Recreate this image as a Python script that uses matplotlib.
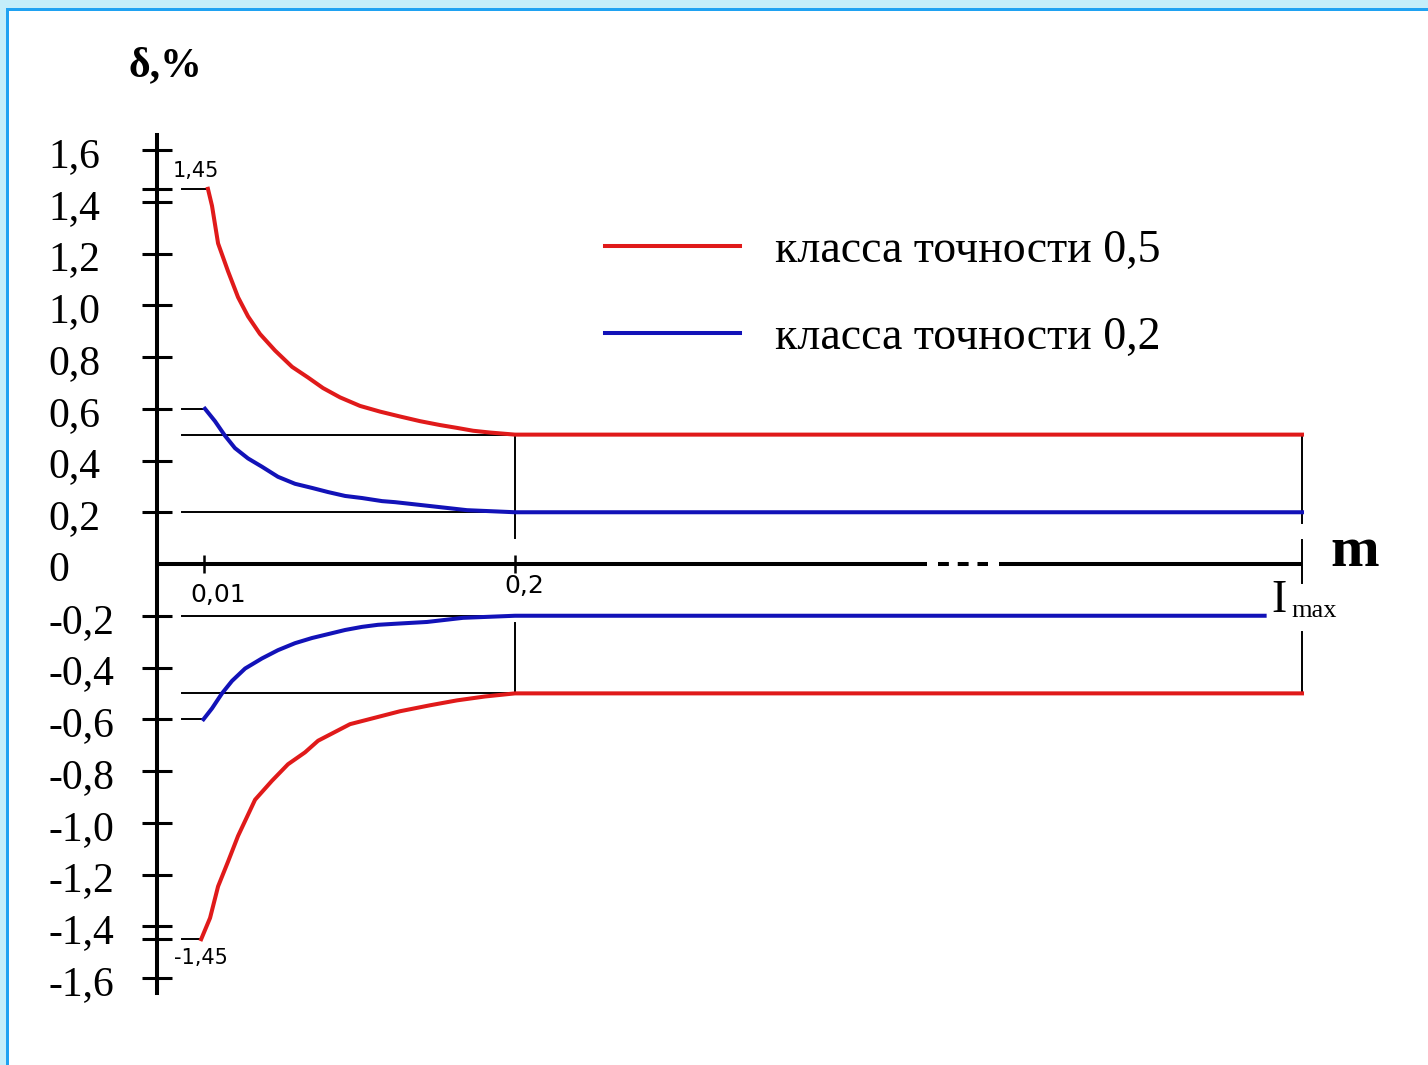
import numpy as np
import matplotlib
matplotlib.use("Agg")
import matplotlib.pyplot as plt
from matplotlib.patches import Rectangle
from matplotlib.transforms import blended_transform_factory

# ---------------- data ----------------
# relative current m (Imax = 1), error limits delta, %
m_red_up = [0.0124, 0.0149, 0.0186, 0.0247, 0.0308, 0.0369, 0.0442, 0.0534,
            0.0638, 0.0735, 0.0827, 0.0931, 0.1053, 0.1175, 0.1298, 0.1420,
            0.1542, 0.1646, 0.1744, 0.1848, 0.2, 1.0]
d_red_up = [1.45, 1.384, 1.239, 1.131, 1.031, 0.957, 0.889, 0.825,
            0.762, 0.721, 0.68, 0.644, 0.611, 0.589, 0.570, 0.552,
            0.537, 0.526, 0.515, 0.508, 0.5, 0.5]

m_red_lo = [0.0094, 0.0137, 0.0186, 0.0247, 0.0308, 0.0412, 0.0515, 0.0613,
            0.0717, 0.0797, 0.0992, 0.1298, 0.1481, 0.1646, 0.1817, 0.2, 1.0]
d_red_lo = [-1.45, -1.368, -1.246, -1.15, -1.051, -0.911, -0.838, -0.774,
            -0.728, -0.683, -0.619, -0.569, -0.546, -0.527, -0.512, -0.5, -0.5]

m_blue_up = [0.0106, 0.0167, 0.0228, 0.0289, 0.0369, 0.0454, 0.0552, 0.0656,
             0.0760, 0.0858, 0.0962, 0.1065, 0.1188, 0.1267, 0.1481, 0.1707,
             0.2, 1.0]
d_blue_up = [0.6, 0.552, 0.496, 0.448, 0.408, 0.376, 0.337, 0.310,
             0.294, 0.278, 0.263, 0.255, 0.243, 0.239, 0.224, 0.208,
             0.2, 0.2]

m_blue_lo = [0.0099, 0.0149, 0.0210, 0.0271, 0.0351, 0.0454, 0.0552, 0.0656,
             0.0760, 0.0858, 0.0962, 0.1065, 0.1163, 0.1267, 0.1463, 0.1683,
             0.2, 0.962]
d_blue_lo = [-0.6, -0.558, -0.5, -0.452, -0.404, -0.365, -0.333, -0.306,
             -0.286, -0.271, -0.255, -0.243, -0.235, -0.231, -0.224, -0.208,
             -0.2, -0.2]

series_labels = ["класса точности 0,5", "класса точности 0,2"]

ytick_vals = [1.6, 1.4, 1.2, 1.0, 0.8, 0.6, 0.4, 0.2, 0.0,
              -0.2, -0.4, -0.6, -0.8, -1.0, -1.2, -1.4, -1.6]
ytick_labels = ["1,6", "1,4", "1,2", "1,0", "0,8", "0,6", "0,4", "0,2", "0",
                "-0,2", "-0,4", "-0,6", "-0,8", "-1,0", "-1,2", "-1,4", "-1,6"]
extra_marks = [1.45, -1.45]
extra_labels = ["1,45", "-1,45"]
ref_levels = [0.5, 0.2, -0.2, -0.5]
xtick_vals = [0.01, 0.2]
xtick_labels = ["0,01", "0,2"]

RED = "#e01a1a"
BLUE = "#1212b8"
SERIF = ["Liberation Serif", "DejaVu Serif"]
NARROW = ["Liberation Sans Narrow", "DejaVu Sans"]

# schematic (piecewise linear) x axis
M_BP = [-10.0, 0.0, 0.01, 0.2, 1.0, 10.0]
P_BP = [-47000.0, 0.0, 47.0, 358.0, 1145.0, 9998.75]


def fwd(m):
    return np.interp(m, M_BP, P_BP)


def inv(p):
    return np.interp(p, P_BP, M_BP)


W, H = 1428, 1065
fig = plt.figure(figsize=(W / 100, H / 100), dpi=100)
fig.patch.set_facecolor("white")


def px(x, y):
    return (x / W, 1 - y / H)


# frame decoration (cyan band + blue border on top and left)
fig.patches.append(Rectangle((0, 1 - 9 / H), 1, 9 / H, transform=fig.transFigure,
                             facecolor="#c4eefa", edgecolor="none", zorder=0))
fig.patches.append(Rectangle((0, 0), 7 / W, 1, transform=fig.transFigure,
                             facecolor="#c4eefa", edgecolor="none", zorder=0))
fig.patches.append(Rectangle((6 / W, 1 - 10.5 / H), 1, 2.5 / H, transform=fig.transFigure,
                             facecolor="#1fa2f2", edgecolor="none", zorder=1))
fig.patches.append(Rectangle((6 / W, 0), 2.5 / W, 1 - 8 / H, transform=fig.transFigure,
                             facecolor="#1fa2f2", edgecolor="none", zorder=1))

ax = fig.add_axes([157 / W, (H - 978) / H, 1145 / W, 828 / H])
ax.set_xscale("function", functions=(fwd, inv))
ax.set_xlim(0, 1)
ax.set_ylim(-1.6, 1.6)
ax.patch.set_alpha(0)

for s in ["top", "right"]:
    ax.spines[s].set_visible(False)
ax.spines["left"].set_position(("data", 0))
ax.spines["left"].set_bounds(-1.658, 1.658)
ax.spines["left"].set_linewidth(2.9)
ax.spines["bottom"].set_position(("data", 0))
ax.spines["bottom"].set_color("none")

ax.set_yticks([v for v in ytick_vals if v != 0] + extra_marks)
ax.tick_params(axis="y", direction="inout", length=21, width=2.2, labelleft=False)
ax.set_xticks(xtick_vals)
ax.tick_params(axis="x", direction="inout", length=13, width=1.8, labelbottom=False,
               color="black")

# x axis line with break
BRK0 = 0.2 + (927 - 515) / 983.75
BRK1 = 0.2 + (999 - 515) / 983.75
DSH0 = 0.2 + (938 - 515) / 983.75
DSH1 = 0.2 + (988 - 515) / 983.75
ax.plot([0, BRK0], [0, 0], color="black", lw=2.9, solid_capstyle="butt", clip_on=False, zorder=4)
ax.plot([DSH0, DSH1], [0, 0], color="black", lw=2.9, linestyle=(0, (2.7, 2.2)),
        dash_capstyle="butt", clip_on=False, zorder=4)
ax.plot([BRK1, 1.0], [0, 0], color="black", lw=2.9, solid_capstyle="butt", clip_on=False, zorder=4)

# thin reference lines
REF0 = 0.0053
for lev in ref_levels:
    ax.plot([REF0, 0.2], [lev, lev], color="black", lw=1.4, zorder=2)
for mm, dd in [(m_red_up, d_red_up), (m_red_lo, d_red_lo),
               (m_blue_up, d_blue_up), (m_blue_lo, d_blue_lo)]:
    ax.plot([REF0, mm[0]], [dd[0], dd[0]], color="black", lw=1.4, zorder=2)

# vertical lines at 0.2 and Imax
for y0, y1 in [(0.5, 0.10), (-0.228, -0.5)]:
    ax.plot([0.2, 0.2], [y0, y1], color="black", lw=1.4, zorder=2)
for y0, y1 in [(0.5, 0.158), (0.093, -0.073), (-0.263, -0.5)]:
    ax.plot([1.0, 1.0], [y0, y1], color="black", lw=1.4, zorder=2, clip_on=False)

# curves
l_red, = ax.plot(m_red_up, d_red_up, color=RED, lw=2.9, zorder=3,
                 solid_joinstyle="round", label=series_labels[0], clip_on=False)
ax.plot(m_red_lo, d_red_lo, color=RED, lw=2.9, zorder=3, solid_joinstyle="round", clip_on=False)
l_blue, = ax.plot(m_blue_up, d_blue_up, color=BLUE, lw=2.9, zorder=3,
                  solid_joinstyle="round", label=series_labels[1], clip_on=False)
ax.plot(m_blue_lo, d_blue_lo, color=BLUE, lw=2.9, zorder=3, solid_joinstyle="round", clip_on=False)

# y tick labels (left aligned as in the picture)
trans = blended_transform_factory(fig.transFigure, ax.transData)
for v, lab in zip(ytick_vals, ytick_labels):
    ax.annotate(lab, xy=(48 / W, v), xycoords=trans, xytext=(0, -17),
                textcoords="offset pixels", ha="left", va="baseline",
                fontsize=30, family=SERIF)

# small labels
ax.annotate(extra_labels[0], xy=(0.01, extra_marks[0]), xytext=(-8, 18),
            textcoords="offset pixels", ha="center", va="center", fontsize=15, family=NARROW)
ax.annotate(extra_labels[1], xy=(0.01, extra_marks[1]), xytext=(-3, -19),
            textcoords="offset pixels", ha="center", va="center", fontsize=15, family=NARROW)
ax.annotate(xtick_labels[0], xy=(xtick_vals[0], 0), xytext=(14, -31),
            textcoords="offset pixels", ha="center", va="center", fontsize=18, family=NARROW)
ax.annotate(xtick_labels[1], xy=(xtick_vals[1], 0), xytext=(9, -22),
            textcoords="offset pixels", ha="center", va="center", fontsize=18, family=NARROW)

# axis titles
fig.text(*px(165, 66), "δ,%", ha="center", va="center", fontsize=30,
         fontweight="bold", family=SERIF)
fig.text(*px(1355, 566), "m", ha="center", va="baseline", fontsize=42,
         fontweight="bold", family=SERIF)
fig.text(*px(1279, 612), "I", ha="center", va="baseline", fontsize=33, family=SERIF)
fig.text(*px(1314, 617), "max", ha="center", va="baseline", fontsize=19, family=SERIF)

# legend
ax.legend(handles=[l_red, l_blue], labels=series_labels, loc="center left",
          bbox_to_anchor=px(605, 294), bbox_transform=fig.transFigure,
          frameon=False, borderpad=0, borderaxespad=0,
          handlelength=2.95, handletextpad=0.76, labelspacing=0.97,
          prop={"family": SERIF, "size": 33})

fig.savefig("out.png", dpi=100, facecolor="white")
